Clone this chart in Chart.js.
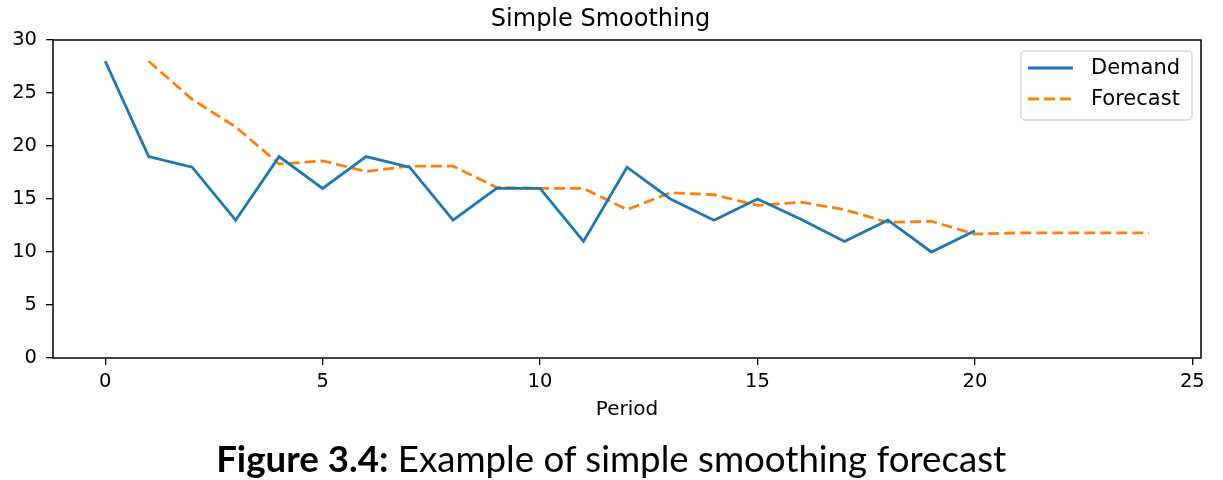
<!DOCTYPE html>
<html>
<head>
<meta charset="utf-8">
<script src="https://cdn.jsdelivr.net/npm/chart.js@4"></script>
<style>
  html, body { margin: 0; padding: 0; background: #fff; }
  #wrap { position: relative; width: 1223px; height: 480px; }
  #caption {
    position: absolute; left: 0; top: 436px; width: 1223px;
    text-align: center; font-family: Lato, "Open Sans", sans-serif;
    font-size: 36px; color: #000; white-space: nowrap;
  }
  #caption span.inner { display: inline-block; transform-origin: center; }
</style>
</head>
<body>
<div id="wrap">
  <canvas id="myChart" width="1223" height="480"></canvas>
  <div id="caption"><span class="inner"><b>Figure 3.4:</b> Example of simple smoothing forecast</span></div>
</div>
<script>
// data
var periods = [0, 1, 2, 3, 4, 5, 6, 7, 8, 9, 10, 11, 12, 13, 14, 15, 16, 17, 18, 19, 20, 21, 22, 23, 24];
var demand = [28, 19, 18, 13, 19, 16, 19, 18, 13, 16, 16, 11, 18, 15, 13, 15, 13.1, 11, 13, 10, 12];
var forecast = [null, 28, 24.4, 21.8, 18.3, 18.6, 17.6, 18.1, 18.1, 16.1, 16, 16, 14, 15.6, 15.4, 14.4, 14.7, 14, 12.8, 12.9, 11.7, 11.8, 11.8, 11.8, 11.8];
var xTicks = [0, 5, 10, 15, 20, 25];
var yTicks = [0, 5, 10, 15, 20, 25, 30];

function toPoints(vals) {
    var pts = [];
    for (var i = 0; i < vals.length; i++) {
        if (vals[i] !== null) pts.push({x: periods[i], y: vals[i]});
    }
    return pts;
}

var font = '"DejaVu Sans", sans-serif';

// frame around the plot area
var framePlugin = {
    id: 'frame',
    afterDatasetsDraw: function(chart) {
        var a = chart.chartArea, ctx = chart.ctx;
        ctx.save();
        ctx.strokeStyle = '#000';
        ctx.lineWidth = 1.5;
        ctx.strokeRect(a.left, a.top, a.right - a.left, a.bottom - a.top);
        ctx.restore();
    }
};

// matplotlib style legend, upper right inside the axes
var legendPlugin = {
    id: 'mplLegend',
    afterDraw: function(chart) {
        var a = chart.chartArea, ctx = chart.ctx;
        var w = 171, h = 69;
        var x0 = a.right - 9 - w, y0 = a.top + 11;
        ctx.save();
        ctx.beginPath();
        ctx.roundRect(x0, y0, w, h, 4);
        ctx.fillStyle = 'rgba(255,255,255,0.8)';
        ctx.fill();
        ctx.strokeStyle = '#d6d6d6';
        ctx.lineWidth = 1.5;
        ctx.stroke();
        ctx.font = '21px ' + font;
        ctx.textBaseline = 'middle';
        chart.data.datasets.forEach(function(ds, i) {
            var y = y0 + 17 + i * 31;
            ctx.beginPath();
            ctx.setLineDash(ds.borderDash || []);
            ctx.strokeStyle = ds.borderColor;
            ctx.lineWidth = ds.borderWidth;
            ctx.moveTo(x0 + 7, y);
            ctx.lineTo(x0 + 52, y);
            ctx.stroke();
            ctx.setLineDash([]);
            ctx.fillStyle = '#000';
            ctx.fillText(ds.label, x0 + 70, y + 1);
        });
        ctx.restore();
    }
};

var cvas = document.getElementById('myChart').getContext('2d');
var myChart = new Chart(cvas, {
    type: 'line',
    data: {
        datasets: [{
            label: 'Demand',
            data: toPoints(demand),
            borderColor: '#1f77b4',
            borderWidth: 2.8,
            pointRadius: 0,
            fill: false,
            tension: 0
        },
        {
            label: 'Forecast',
            data: toPoints(forecast),
            borderColor: '#ff7f0e',
            borderWidth: 2.8,
            borderDash: [11, 5],
            pointRadius: 0,
            fill: false,
            tension: 0
        }]
    },
    options: {
        responsive: false,
        animation: false,
        layout: { padding: { left: 0, right: 22, top: 0, bottom: 50 } },
        plugins: {
            legend: { display: false },
            tooltip: { enabled: false },
            title: {
                display: true,
                text: 'Simple Smoothing',
                color: '#000',
                font: { family: font, size: 24, weight: 'normal' },
                padding: { top: 5, bottom: 6.2 }
            }
        },
        scales: {
            x: {
                type: 'linear',
                min: -1.2,
                max: 25.2,
                afterBuildTicks: function(scale) {
                    scale.ticks = xTicks.map(function(v) { return {value: v}; });
                },
                afterFit: function(scale) { scale.height = 72; },
                border: { display: false },
                grid: { drawOnChartArea: false, drawTicks: true, tickLength: 7, color: '#000', lineWidth: 1.3 },
                ticks: { color: '#000', font: { family: font, size: 19.5 }, padding: 5, maxRotation: 0 },
                title: {
                    display: true, text: 'Period', color: '#000',
                    font: { family: font, size: 20 }, padding: { top: 4, bottom: 8 }
                }
            },
            y: {
                min: 0,
                max: 30,
                afterBuildTicks: function(scale) {
                    scale.ticks = yTicks.map(function(v) { return {value: v}; });
                },
                afterFit: function(scale) { scale.width = 53; },
                border: { display: false },
                grid: { drawOnChartArea: false, drawTicks: true, tickLength: 7, color: '#000', lineWidth: 1.3 },
                ticks: { color: '#000', font: { family: font, size: 19.5 }, padding: 9 }
            }
        }
    },
    plugins: [framePlugin, legendPlugin]
});

// stretch the caption to the width it has in the figure
var inner = document.querySelector('#caption .inner');
var w = inner.getBoundingClientRect().width;
inner.style.transform = 'scaleX(' + (790 / w) + ')';
</script>
</body>
</html>
